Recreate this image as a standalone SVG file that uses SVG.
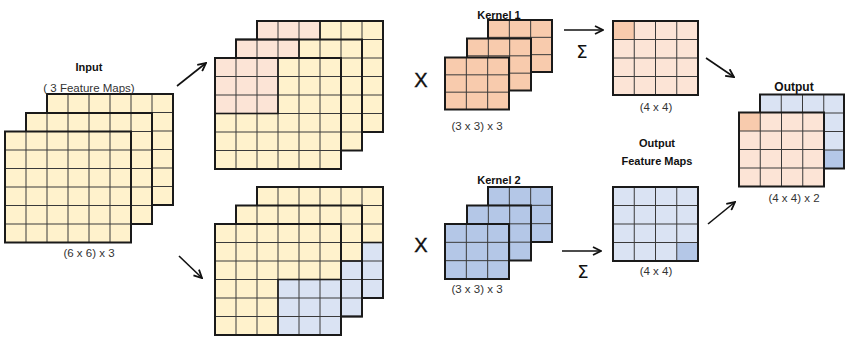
<svg xmlns="http://www.w3.org/2000/svg" xmlns:xlink="http://www.w3.org/1999/xlink" width="845" height="338" viewBox="0 0 845 338">
<style>
.yel{fill:#fff2cc}
.pnk{fill:#fce4d6}
.dor{fill:#f8cbad}
.lbl{fill:#dae3f3}
.dbl{fill:#b4c7e7}
.grid{fill:none;stroke:#3a3a3a;stroke-width:1}
.bd{fill:none;stroke:#1a1a1a;stroke-width:2}
.hb{fill:none;stroke:#1a1a1a;stroke-width:1.6}
.t{font-family:"Liberation Sans",Arial,sans-serif;font-size:11.5px;fill:#333;text-anchor:middle}
.b{font-family:"Liberation Sans",Arial,sans-serif;font-size:11px;font-weight:bold;fill:#111;text-anchor:middle}
.x{font-family:"Liberation Sans",Arial,sans-serif;font-size:20px;fill:#111;text-anchor:middle;stroke:#111;stroke-width:0.4}
.s{font-family:"DejaVu Sans","Liberation Sans",sans-serif;font-size:18px;fill:#111;text-anchor:middle}
.ar{fill:none;stroke:#111;stroke-width:1.6}
</style>
<defs>
<marker id="ah" viewBox="0 0 10 10" refX="9" refY="5" markerWidth="10" markerHeight="10" markerUnits="userSpaceOnUse" orient="auto">
<path d="M1,1 L9,5 L1,9" fill="none" stroke="#111" stroke-width="1.8"/>
</marker>
<path id="g6" class="grid" d="M21 0V111M42 0V111M63 0V111M84 0V111M105 0V111M0 18.5H126M0 37H126M0 55.5H126M0 74H126M0 92.5H126"/>
<path id="gk1" class="grid" d="M21.33 0V52M42.67 0V52M0 17.33H64M0 34.67H64"/>
<path id="gk2" class="grid" d="M21.33 0V55M42.67 0V55M0 18.33H64M0 36.67H64"/>
<path id="g4" class="grid" d="M21.25 0V74M42.5 0V74M63.75 0V74M0 18.5H85M0 37H85M0 55.5H85"/>
</defs>

<g id="input">
<g transform="translate(47,94)"><rect class="yel" width="126" height="111"/><use xlink:href="#g6"/><rect class="bd" width="126" height="111"/></g>
<g transform="translate(26,113)"><rect class="yel" width="126" height="111"/><use xlink:href="#g6"/><rect class="bd" width="126" height="111"/></g>
<g transform="translate(5,131.5)"><rect class="yel" width="126" height="111"/><use xlink:href="#g6"/><rect class="bd" width="126" height="111"/></g>
<text class="b" x="89" y="71">Input</text>
<text class="t" x="89" y="91.5">( 3 Feature Maps)</text>
<text class="t" x="89" y="256.5">(6 x 6) x 3</text>
</g>

<g id="stack-top">
<g transform="translate(257,21)"><rect class="yel" width="126" height="111"/><rect class="pnk" width="63" height="55.5"/><use xlink:href="#g6"/><rect class="hb" width="63" height="55.5"/><rect class="bd" width="126" height="111"/></g>
<g transform="translate(236,39.5)"><rect class="yel" width="126" height="111"/><rect class="pnk" width="63" height="55.5"/><use xlink:href="#g6"/><rect class="hb" width="63" height="55.5"/><rect class="bd" width="126" height="111"/></g>
<g transform="translate(215,58)"><rect class="yel" width="126" height="111"/><rect class="pnk" width="63" height="55.5"/><use xlink:href="#g6"/><rect class="hb" width="63" height="55.5"/><rect class="bd" width="126" height="111"/></g>
</g>

<g id="stack-bottom">
<g transform="translate(257,187)"><rect class="yel" width="126" height="111"/><rect class="lbl" x="63" y="55.5" width="63" height="55.5"/><use xlink:href="#g6"/><rect class="hb" x="63" y="55.5" width="63" height="55.5"/><rect class="bd" width="126" height="111"/></g>
<g transform="translate(236,205.5)"><rect class="yel" width="126" height="111"/><rect class="lbl" x="63" y="55.5" width="63" height="55.5"/><use xlink:href="#g6"/><rect class="hb" x="63" y="55.5" width="63" height="55.5"/><rect class="bd" width="126" height="111"/></g>
<g transform="translate(215,224)"><rect class="yel" width="126" height="111"/><rect class="lbl" x="63" y="55.5" width="63" height="55.5"/><use xlink:href="#g6"/><rect class="hb" x="63" y="55.5" width="63" height="55.5"/><rect class="bd" width="126" height="111"/></g>
</g>

<g id="kernel1">
<text class="x" x="421" y="87">X</text>
<g transform="translate(488,20)"><rect class="dor" width="64" height="52"/><use xlink:href="#gk1"/><rect class="bd" width="64" height="52"/></g>
<g transform="translate(467,38.5)"><rect class="dor" width="64" height="52"/><use xlink:href="#gk1"/><rect class="bd" width="64" height="52"/></g>
<g transform="translate(445,57.5)"><rect class="dor" width="64" height="52"/><use xlink:href="#gk1"/><rect class="bd" width="64" height="52"/></g>
<text class="b" x="499" y="19">Kernel 1</text>
<text class="t" x="477" y="130">(3 x 3) x 3</text>
</g>

<g id="kernel2">
<text class="x" x="421" y="252">X</text>
<g transform="translate(488,187)"><rect class="dbl" width="64" height="55"/><use xlink:href="#gk2"/><rect class="bd" width="64" height="55"/></g>
<g transform="translate(467,205.5)"><rect class="dbl" width="64" height="55"/><use xlink:href="#gk2"/><rect class="bd" width="64" height="55"/></g>
<g transform="translate(445,224)"><rect class="dbl" width="64" height="55"/><use xlink:href="#gk2"/><rect class="bd" width="64" height="55"/></g>
<text class="b" x="499" y="183.5">Kernel 2</text>
<text class="t" x="477" y="293">(3 x 3) x 3</text>
</g>

<g id="out1">
<g transform="translate(613,21)"><rect class="pnk" width="85" height="74"/><rect class="dor" width="21.25" height="18.5"/><use xlink:href="#g4"/><rect class="bd" width="85" height="74"/></g>
<text class="t" x="656" y="110.5">(4 x 4)</text>
<text class="s" x="582" y="58">Σ</text>
</g>

<g id="out2">
<text class="b" x="657" y="147">Output</text>
<text class="b" x="657" y="164.5">Feature Maps</text>
<g transform="translate(613,187)"><rect class="lbl" width="85" height="74"/><rect class="dbl" x="63.75" y="55.5" width="21.25" height="18.5"/><use xlink:href="#g4"/><rect class="bd" width="85" height="74"/></g>
<text class="t" x="656" y="274.5">(4 x 4)</text>
<text class="s" x="583" y="278">Σ</text>
</g>

<g id="output">
<text class="b" x="794" y="90.5" style="font-size:12px">Output</text>
<g transform="translate(760,94.5)"><rect class="lbl" width="84" height="74"/><rect class="dbl" x="63.75" y="55.5" width="21.25" height="18.5"/><use xlink:href="#g4"/><rect class="bd" width="84" height="74"/></g>
<g transform="translate(739,112.5)"><rect class="pnk" width="85" height="74"/><rect class="dor" width="21.25" height="18.5"/><use xlink:href="#g4"/><rect class="bd" width="85" height="74"/></g>
<text class="t" x="794" y="201.5">(4 x 4) x 2</text>
</g>

<g id="connectors">
<line class="ar" x1="177" y1="86" x2="206" y2="63" marker-end="url(#ah)"/>
<line class="ar" x1="179" y1="256" x2="202" y2="278" marker-end="url(#ah)"/>
<line class="ar" x1="564" y1="30" x2="603" y2="30" marker-end="url(#ah)"/>
<line class="ar" x1="562" y1="251" x2="601" y2="251" marker-end="url(#ah)"/>
<line class="ar" x1="706" y1="58" x2="734" y2="77" marker-end="url(#ah)"/>
<line class="ar" x1="708" y1="224" x2="735" y2="202" marker-end="url(#ah)"/>
</g>
</svg>
